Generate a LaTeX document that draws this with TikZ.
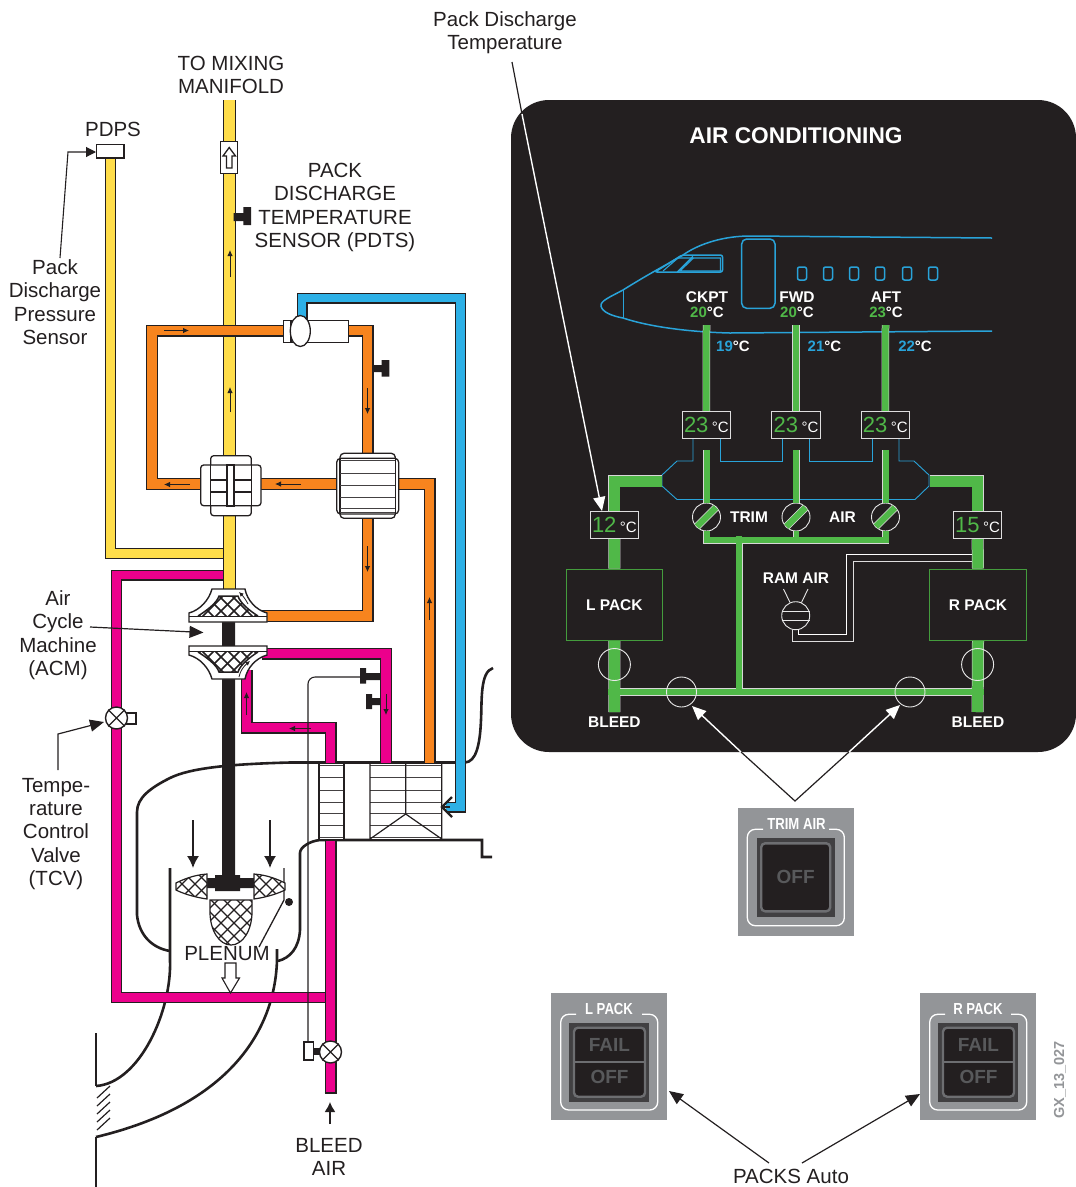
\documentclass[tikz,border=0pt]{standalone}
\usepackage{fontspec}
\setmainfont{Liberation Sans}
\newfontfamily\condfont[FakeStretch=0.82]{Liberation Sans}
\usetikzlibrary{arrows.meta}
\definecolor{ink}{HTML}{231F20}
\definecolor{yel}{HTML}{FFDD4A}
\definecolor{org}{HTML}{F7841E}
\definecolor{mag}{HTML}{EC008C}
\definecolor{sky}{HTML}{2DB0E6}
\definecolor{grn}{HTML}{50B848}
\definecolor{swgray}{HTML}{939598}
\definecolor{swdark}{HTML}{58595B}
\definecolor{swframe}{HTML}{414042}
\definecolor{swring}{HTML}{6D6E71}
\definecolor{pline}{HTML}{29A3D9}
\newcommand{\lab}{\fontsize{20.5}{23.4}\selectfont}
\newcommand{\pipe}[3]{\draw[ink,line width=#2pt,miter limit=10] #3;\draw[#1,line width=#2pt-2.4pt,miter limit=10] #3;}
\newcommand{\gpipe}[2]{\draw[white!82!ink,line width=#1pt+1pt] #2;\draw[grn,line width=#1pt] #2;}
\newcommand{\meshlines}[1]{\foreach \k in {-1300,-1287,...,1500}{\draw[ink,line width=#1pt] (\k,0) -- ++(1400,1400);\draw[ink,line width=#1pt] (\k,0) -- ++(-1400,1400);}}
\tikzset{
 lbl/.style={font=\lab,align=center,text=ink,inner sep=0pt},
 wht/.style={font=\fontsize{15.5}{15.5}\selectfont\bfseries,align=center,text=white,inner sep=0pt},
 tmp/.style={font=\fontsize{15}{15}\selectfont\bfseries,align=center,text=white,inner sep=0pt},
 tempbox/.style={draw=white!85!ink,line width=0.9pt,fill=ink,minimum width=48.5pt,minimum height=27.5pt,inner sep=0pt,text=white},
 flow/.style={ink,line width=0.8pt,-{Latex[length=6pt,width=5.5pt]}},
 big/.style={ink,line width=1.5pt,-{Latex[length=12pt,width=12pt]}},
 leader/.style={ink,line width=1.2pt,-{Triangle[length=14pt,width=12pt]}},
 leaderw/.style={white,line width=1.4pt,-{Triangle[length=14pt,width=12pt]}},
 duct/.style={ink,line width=2.6pt},
 ringw/.style={circle,draw=white!90!ink,line width=0.9pt,inner sep=0pt},
 valve/.style={circle,draw=ink,line width=1.4pt,fill=white,minimum size=22pt,inner sep=0pt},
 plane/.style={pline,line width=1.5pt},
 swcap/.style={font=\condfont\fontsize{16}{16}\selectfont\bfseries,text=white,inner sep=1pt},
 swt/.style={font=\fontsize{19}{19}\selectfont\bfseries,text=swdark,inner sep=0pt},
}
\begin{document}
\begin{tikzpicture}[x=1pt,y=-1pt,line cap=butt]
\useasboundingbox (0,0) rectangle (1076,1187);

% ---------- ram air duct
\draw[duct] (493,668) .. controls (480,672) and (482,700) .. (481,720) .. controls (480,745) and (476,762) .. (465,762.5) -- (290,762.5) .. controls (230,764) and (190,768) .. (170,778) .. controls (150,788) and (137,798) .. (137,812) -- (137,915) .. controls (139,935) and (152,948) .. (170,951);
\draw[duct] (492,857) -- (482,857) -- (482,840) -- (320,840) .. controls (310,841) and (300,847) .. (300,853) -- (300,930) .. controls (299,948) and (290,958) .. (278,961);
\draw[duct] (170,868) -- (170,960) .. controls (172,1010) and (140,1083) .. (96,1086);
\draw[duct] (277,949) -- (277,960) .. controls (275,1030) and (230,1105) .. (96,1137);
\draw[duct] (96,1033) -- (96,1086) (96,1137) -- (96,1187);
\draw[ink,line width=1.3pt] (284,868) -- (284,900) -- (259,947);
\fill[ink] (289,902) circle (4);
\foreach \y in {1098,1106,1114,1122,1130}{\draw[ink,line width=1.2pt] (97,\y) -- (110,\y-12);}

% ---------- pipes
\pipe{yel}{11}{(110.5,158) -- (110.5,553.5) -- (226,553.5)}
\pipe{mag}{11}{(226,575) -- (116.5,575) -- (116.5,997.5) -- (326,997.5)}
\pipe{yel}{12.5}{(229.5,100) -- (229.5,592)}
\pipe{org}{12}{(290,330.5) -- (152,330.5) -- (152,484) -- (205,484)}
\pipe{org}{12}{(340,330.5) -- (367.5,330.5) -- (367.5,460)}
\pipe{org}{12}{(367.5,510) -- (367.5,616) -- (262,616)}
\pipe{org}{12}{(258,484) -- (340,484)}
\pipe{org}{12}{(395,484) -- (429.5,484) -- (429.5,763)}
\pipe{mag}{12}{(330.5,763) -- (330.5,727.5) -- (246.5,727.5) -- (246.5,670)}
\pipe{mag}{12}{(262,653.5) -- (386,653.5) -- (386,763)}
\pipe{mag}{12}{(330.5,840) -- (330.5,1093)}
\draw[ink,line width=1.2pt] (324.5,1093)--(336.5,1093);
\pipe{sky}{11}{(302,322) -- (302,298) -- (460.5,298) -- (460.5,807) -- (446,807)}
\fill[ink] (222,622) rectangle (235,648) (222,678) rectangle (235,880);

% ---------- heat exchangers at duct
\fill[white] (319,763.5) rectangle (344,840);
\foreach \y in {765,777,790,802,813,825,837}{\draw[ink!85,line width=0.8pt] (319,\y) -- (344,\y);}
\draw[ink,line width=1.2pt] (319,763) -- (319,840) (344,763) -- (344,840);
\fill[white] (370,763.5) rectangle (441.7,840);
\foreach \y in {765,777,790,802,813,825,837}{\draw[ink!85,line width=0.8pt] (370,\y) -- (441.7,\y);}
\draw[ink,line width=1.2pt] (370,763) -- (370,840) (441.7,763) -- (441.7,840) (405.7,763) -- (405.7,814) (370,839) -- (405.7,814) -- (441.7,839);
\draw[duct] (319,840)--(482,840);
\draw[ink,line width=2.2pt] (452,797) -- (442,807) -- (452,817);
\draw[ink,line width=2pt] (442,807)--(450,807);

% ---------- thin control line
\draw[ink,line width=1.1pt,rounded corners=7pt] (308,1041) -- (308,677) -- (360,677);
\draw[ink,line width=1.2pt,fill=white] (304,1042) rectangle (313.5,1060);
\fill[ink] (313.5,1048) rectangle (320,1055);
\node[valve] (bleedv) at (330.5,1052) {};
\draw[ink,line width=1.3pt] (bleedv.north east) -- (bleedv.south west) (bleedv.north west) -- (bleedv.south east);

\draw[ink,line width=1.2pt,fill=white] (126,713) rectangle (136,724);
\node[valve] (tcv) at (116.5,718) {};
\draw[ink,line width=1.3pt] (tcv.north east) -- (tcv.south west) (tcv.north west) -- (tcv.south east);

% ---------- sensors
\fill[ink] (243.3,207) rectangle (251,225) (233.5,213) rectangle (244,221);
\fill[ink] (381.7,360) rectangle (389.3,376.7) (373,365) rectangle (382,372);
\fill[ink] (360,668) rectangle (366,683.6) (366,673) rectangle (380,680);
\fill[ink] (366,694) rectangle (372,709) (372,698) rectangle (380,705);

% ---------- PDPS, one-way valve
\draw[ink,line width=1.3pt,fill=white] (96.7,144.5) rectangle (124,158);
\draw[ink,line width=1.3pt,fill=white] (220.7,141.7) rectangle (237.7,173.3);
\draw[ink,line width=1.3pt,fill=white] (226.5,168) -- (226.5,156) -- (223,156) -- (229.2,147.5) -- (235.5,156) -- (232,156) -- (232,168) -- cycle;

% ---------- reheater / condenser
\draw[ink,line width=1.3pt,fill=white] (283.7,320.3) rectangle (348.3,342.3);
\draw[ink,line width=1.2pt] (291,320.3) -- (291,342.3);
\draw[ink,line width=1.3pt,fill=white] (300.3,331) ellipse (10 and 15.5);

\draw[ink,line width=1.3pt,fill=white,rounded corners=3pt] (210.7,455.7) rectangle (251.3,515.7);
\draw[ink,line width=1.3pt,fill=white,rounded corners=3pt] (200.7,465) rectangle (261,505.7);
\draw[ink,line width=1.2pt] (210.7,465) -- (210.7,505.7) (251.3,465) -- (251.3,505.7) (210.7,480) -- (251.3,480) (210.7,492) -- (251.3,492);
\draw[ink,line width=1.6pt,fill=white] (227,465) rectangle (234,505.7);
\draw[ink,line width=1.6pt] (227,465)--(227,505.7);

\draw[ink,line width=1.3pt,fill=white,rounded corners=4pt] (340,453.3) rectangle (395.3,518.3);
\draw[ink,line width=1.3pt,fill=white,rounded corners=4pt] (336.7,458.3) rectangle (398.7,514);
\draw[ink,line width=1.3pt] (340,458.3) -- (340,514) (395.3,458.3) -- (395.3,514);
\foreach \y in {460,473,485,497,508,512}{\draw[ink!85,line width=0.9pt] (340,\y) -- (395.3,\y);}

% ---------- compressor / turbine
\foreach \sc in {0,1}{
\begin{scope}[shift={(0,1268*\sc)},yscale=1-2*\sc]
\draw[ink,line width=1.4pt,fill=white] (212,589) -- (245,589) .. controls (247,600) and (256,610) .. (267,613) -- (267,622) -- (189,622) -- (189,613) .. controls (200,610) and (209,600) .. (212,589) -- cycle;
\draw[ink,line width=1.3pt] (189,616.5) -- (267,616.5);
\begin{scope}
\clip (219,596) -- (238,596) .. controls (240,603) and (250,611) .. (258,616) -- (198,616) .. controls (206,611) and (217,603) .. (219,596) -- cycle;
\meshlines{1.7}
\end{scope}
\draw[ink,line width=1.5pt] (258,616) .. controls (250,611) and (240,603) .. (238,596) -- (219,596) .. controls (217,603) and (206,611) .. (198,616);
\end{scope}}
\draw[ink,line width=0.8pt,-{Latex[length=4.5pt,width=4.5pt]}] (248,604) .. controls (246,600) and (243,596) .. (239,592);
\draw[ink,line width=0.8pt,-{Latex[length=4.5pt,width=4.5pt]}] (239,677) .. controls (240,671) and (244,666) .. (250,661);

% ---------- fan
\fill[ink] (207,878) rectangle (255,888) (215,875) rectangle (240,891);
\foreach \bl in {0,1}{
\begin{scope}[shift={(461*\bl,0)},xscale=1-2*\bl]
\draw[ink,line width=1.2pt,fill=white] (207,874) .. controls (193,875) and (182,880) .. (176,883) -- (176,890) .. controls (182,893) and (193,897) .. (207,899) -- cycle;
\begin{scope}
\clip (207,874) .. controls (193,875) and (182,880) .. (176,883) -- (176,890) .. controls (182,893) and (193,897) .. (207,899) -- cycle;
\meshlines{1.3}
\end{scope}
\end{scope}}
\draw[ink,line width=1.2pt,fill=white] (210,900) -- (252,900) -- (252,912) .. controls (252,930) and (243,945) .. (231,945) .. controls (219,945) and (210,930) .. (210,912) -- cycle;
\begin{scope}
\clip (210,900) -- (252,900) -- (252,912) .. controls (252,930) and (243,945) .. (231,945) .. controls (219,945) and (210,930) .. (210,912) -- cycle;
\meshlines{1.3}
\end{scope}

% ---------- flow arrows
\coordinate (fa) at (193,820);\coordinate (fb) at (193,868);
\draw[big] (fa) -- (fb);
\coordinate (fc) at (270,820);\coordinate (fd) at (270,868);
\draw[big] (fc) -- (fd);
\draw[ink,line width=1.1pt,fill=white] (225,963) -- (236,963) -- (236,978) -- (239.5,978) -- (230.5,993) -- (222,978) -- (225,978) -- cycle;
\coordinate (ba) at (330,1124);\coordinate (bb) at (330,1102);
\draw[ink,line width=1.5pt,-{Latex[length=10pt,width=11pt]}] (ba) -- (bb);

\draw[flow] (164,330.5) -- (189,330.5);
\draw[flow] (230,277) -- (230,250);
\draw[flow] (230,412) -- (230,387);
\draw[flow] (367.5,388) -- (367.5,414);
\draw[flow] (190,484.5) -- (164,484.5);
\draw[flow] (301,484) -- (275,484);
\draw[flow] (367.5,546) -- (367.5,572);
\draw[flow] (429.5,620) -- (429.5,597);
\draw[flow] (246.5,715) -- (246.5,692);
\draw[flow] (311,728.5) -- (289,728.5);
\draw[flow] (386,694) -- (386,715);

% ---------- left labels
\node[lbl] (ltop) at (231,75) {TO MIXING\\MANIFOLD};
\node[lbl] (lpdps) at (113,129) {PDPS};
\node[lbl] (lpdts) at (335,207.5) {PACK\\DISCHARGE\\TEMPERATURE\\SENSOR (PDTS)};
\node[lbl] (lpress) at (55,302.3) {Pack\\Discharge\\Pressure\\Sensor};
\node[lbl] (lacm) at (58,635) {Air\\Cycle\\Machine\\(ACM)};
\node[lbl] (ltcv) at (56,834) {Tempe-\\rature\\Control\\Valve\\(TCV)};
\node[lbl] (lplen) at (227,954) {PLENUM};
\node[lbl] (lbleed) at (329,1157) {BLEED\\AIR};
\node[lbl] (ltemp) at (505,32.5) {Pack Discharge\\Temperature};
\node[lbl] (lauto) at (791,1176) {PACKS Auto};

\coordinate (pa) at (60,258);\coordinate (pb) at (68,152);\coordinate (pc) at (96,152);
\draw[ink,line width=1.1pt,-{Triangle[length=10pt,width=10pt]}] (pa) -- (pb) -- (pc);
\coordinate (aa) at (90,627);\coordinate (ab) at (203.5,632.5);
\draw[leader] (aa) -- (ab);
\coordinate (ta) at (58,770);\coordinate (tb) at (58,734);\coordinate (tc) at (104,722);
\draw[leader] (ta) -- (tb) -- (tc);

% ---------- panel
\fill[ink,rounded corners=38pt] (511,100) rectangle (1076,752);
\node[font=\fontsize{22.7}{22.7}\selectfont\bfseries,text=white,inner sep=0pt] (title) at (796,135.5) {AIR CONDITIONING};

% plane
\draw[plane] (992,238) -- (750,236) .. controls (725,236) and (700,243) .. (683,255) .. controls (672,262) and (655,270) .. (623,290) .. controls (610,297) and (600,301) .. (601,306) .. controls (602,312) and (612,316) .. (623,318) .. controls (650,327) and (690,332) .. (730,333) -- (992,331);
\draw[plane] (623.5,290) -- (623.5,318);
\draw[plane,rounded corners=5pt] (741.7,239) rectangle (775,308.3);
\draw[plane,rounded corners=2pt] (655,272) -- (682,255) -- (722.5,255) -- (722.5,272) -- cycle;
\draw[pline,line width=1.1pt] (663,271) -- (678,258) -- (720.5,258) -- (720.5,271) -- (680,271) -- (693.5,258);
\draw[plane] (677.5,272) -- (693,256.5);
\foreach \x in {802,828,854,880,907,933}{\draw[plane,rounded corners=2pt] (\x-4.5,267) rectangle (\x+4.5,280);}

% panel text
\node[wht] (ckpt) at (707,297.5) {CKPT};
\node[wht] (fwd) at (797,297.5) {FWD};
\node[wht] (aft) at (886,297.5) {AFT};
\node[tmp] (ck2) at (707,312.5) {\textcolor{grn}{20}°C};
\node[tmp] (fw2) at (797,312.5) {\textcolor{grn}{20}°C};
\node[tmp] (af2) at (886,312.5) {\textcolor{grn}{23}°C};
\node[tmp] (ck3) at (733,346.5) {\textcolor{pline}{19}°C};
\node[tmp] (fw3) at (824.5,346.5) {\textcolor{pline}{21}°C};
\node[tmp] (af3) at (915,346.5) {\textcolor{pline}{22}°C};

% blue small lines
\draw[pline,line width=0.9pt] (693,439) -- (693,461) -- (677,461) -- (662,475) -- (662,486) -- (677,499.5) -- (915,499.5) -- (929,486) -- (929,475) -- (914,461) -- (899,461) -- (899,439);
\draw[pline,line width=0.9pt] (720,439) -- (720,461) -- (782,461) -- (782,439);
\draw[pline,line width=0.9pt] (809.5,439) -- (809.5,461) -- (872,461) -- (872,439);

% temp boxes
\newcommand{\tval}[1]{{\fontsize{22}{22}\selectfont\textcolor{grn}{#1}}\hspace{3.5pt}{\fontsize{15}{15}\selectfont °C}}
\node[tempbox] (t1) at (706.4,425) {\tval{23}};
\node[tempbox] (t2) at (796,425) {\tval{23}};
\node[tempbox] (t3) at (885.3,425) {\tval{23}};
\node[tempbox] (tl) at (614.4,525) {\tval{12}};
\node[tempbox] (tr) at (977.6,525) {\tval{15}};

% valves
\node[ringw,minimum size=28pt] (v1) at (706.5,517) {};
\node[ringw,minimum size=28pt] (v2) at (796,517) {};
\node[ringw,minimum size=28pt] (v3) at (885.5,517) {};

% green ducts
\gpipe{6.5}{(706.5,325) -- (t1.north)}
\gpipe{6.5}{(796,325) -- (t2.north)}
\gpipe{6.5}{(885.5,325) -- (t3.north)}
\gpipe{6}{(706.5,450) -- (v1.north)}
\gpipe{6}{(796,450) -- (v2.north)}
\gpipe{6}{(885.5,450) -- (v3.north)}
\gpipe{11}{(662,481) -- (614.4,481) -- (tl.north)}
\gpipe{11}{(929.5,481) -- (977.6,481) -- (tr.north)}
\gpipe{6}{(v1.south) -- (706.5,540) -- (885.5,540) -- (v3.south)}
\gpipe{5}{(v2.south) -- (796,540)}
\gpipe{6}{(739,540) -- (739,692)}
\gpipe{6.5}{(614.4,692) -- (977.6,692)}

\node[draw=grn!85!black,line width=1pt,minimum width=96.5pt,minimum height=71.5pt,inner sep=0pt,wht] (lpack) at (614.3,604.8) {L PACK};
\node[draw=grn!85!black,line width=1pt,minimum width=96.5pt,minimum height=71.5pt,inner sep=0pt,wht] (rpack) at (978,604.8) {R PACK};
\gpipe{11}{(tl.south) -- (lpack.north)}
\gpipe{11}{(tr.south) -- (rpack.north)}
\gpipe{11}{(lpack.south) -- (614.4,712)}
\gpipe{11}{(rpack.south) -- (977.6,712)}
% junctions without outline
\draw[grn,line width=6.5pt] (608,692) -- (984,692);
\draw[grn,line width=6pt] (739,536) -- (739,692);
\draw[grn,line width=6pt] (706.5,540) -- (885.5,540);
\draw[grn,line width=11pt] (614.4,686) -- (614.4,698) (977.6,686) -- (977.6,698);
\draw[grn,line width=5pt] (796,534) -- (796,540);

\foreach \v in {v1,v2,v3}{
 \draw[white!85!ink,line width=7.5pt] ([shift={(-9.5,9.5)}]\v.center) -- ([shift={(9.5,-9.5)}]\v.center);
 \draw[grn,line width=6.2pt] ([shift={(-9.5,9.5)}]\v.center) -- ([shift={(9.5,-9.5)}]\v.center);
}

% ram air
\node[wht] (ram) at (796,578.5) {RAM AIR};
\node[ringw,minimum size=28pt] (rv) at (795.7,615.7) {};
\draw[white!90!ink,line width=0.9pt] (781.7,611) -- (809.7,611) (781.7,620) -- (809.7,620);
\draw[white!90!ink,line width=0.9pt] (783.5,589) -- (790,602.5) (808,589) -- (801.5,602.5);
\draw[white,line width=1pt] (798.3,630) -- (798.3,634.5) -- (846.5,634.5) -- (846.5,554.7) -- (972,554.7);
\draw[white!85!ink,line width=1pt] (792.5,629.5) -- (792.5,641.5) -- (853,641.5) -- (853,561) -- (972,561);

% rings
\node[ringw,minimum size=32pt] (r1) at (614.4,664.5) {};
\node[ringw,minimum size=32pt] (r2) at (977.6,664.5) {};
\node[ringw,minimum size=30pt] (r3) at (681.5,692) {};
\node[ringw,minimum size=30pt] (r4) at (910,692) {};

\node[wht] (trim) at (749,517.5) {TRIM};
\node[wht] (airl) at (842.5,517.5) {AIR};
\node[wht] (bl) at (614.4,722.5) {BLEED};
\node[wht] (br) at (978,722.5) {BLEED};

% ---------- leader arrows across the panel edge
\coordinate (da) at (512,62);\coordinate (db) at (522,114);\coordinate (dc) at (602,511);
\draw[ink,line width=1.2pt] (da) -- (db);
\draw[leaderw] (db) -- (dc);
\coordinate (ca) at (795,801);\coordinate (cl) at (741,752);\coordinate (cr) at (849,752);
\coordinate (cle) at (692,706);\coordinate (cre) at (900,705);
\draw[ink,line width=1.2pt] (cl) -- (ca) -- (cr);
\draw[leaderw] (cl) -- (cle);
\draw[leaderw] (cr) -- (cre);

% ---------- switches
\coordinate (qa) at (769,1163);\coordinate (qb) at (669,1091);
\coordinate (qc) at (802,1163);\coordinate (qd) at (920,1094);
\draw[leader] (qa) -- (qb);
\draw[leader] (qc) -- (qd);

% TRIM AIR
\fill[swgray] (738,808) rectangle (854,936);
\draw[white,line width=1.3pt,rounded corners=8pt] (763,829.3) -- (747.3,829.3) -- (747.3,925.7) -- (844.3,925.7) -- (844.3,829.3) -- (829,829.3);
\node[swcap] (s1cap) at (796.5,824) {TRIM AIR};
\fill[swframe] (756.7,838) rectangle (835,916.7);
\node[draw=swring,line width=2.4pt,rounded corners=4pt,fill=ink,minimum width=69pt,minimum height=68pt,inner sep=0pt,swt] (s1off) at (795.7,877.3) {OFF};

% pack switches
\foreach \dx/\nm/\id in {0/L PACK/a,369/R PACK/b}{
\begin{scope}[shift={(\dx,0)}]
\fill[swgray] (551,993) rectangle (667,1120);
\draw[white,line width=1.3pt,rounded corners=8pt] (576,1014.3) -- (560.7,1014.3) -- (560.7,1110) -- (657.7,1110) -- (657.7,1014.3) -- (642,1014.3);
\node[swcap] (cap\id) at (609,1008.5) {\nm};
\fill[swframe] (569,1023) rectangle (649,1101.7);
\draw[swring,line width=2.4pt,rounded corners=4pt,fill=ink] (574,1027.7) rectangle (645,1096.7);
\draw[swring,line width=2.4pt] (574,1061.7) -- (645,1061.7);
\node[swt] (fail\id) at (609.5,1045) {FAIL};
\node[swt] (off\id) at (609.5,1077) {OFF};
\end{scope}}

\node[rotate=90,font=\fontsize{14.5}{14.5}\selectfont\bfseries,text=swgray,inner sep=0pt] (gx) at (1060,1080) {GX\_13\_027};
\end{tikzpicture}
\end{document}
